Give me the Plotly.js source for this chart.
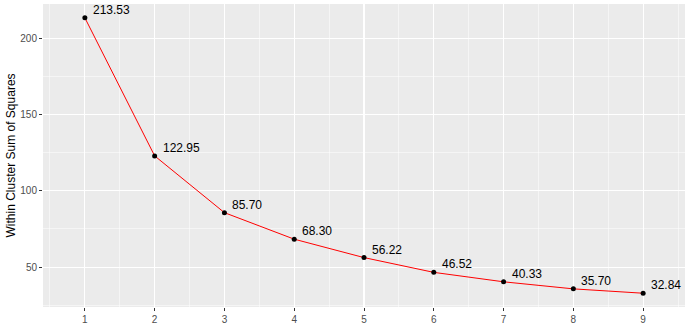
<!DOCTYPE html>
<html><head><meta charset="utf-8">
<script src="https://cdn.plot.ly/plotly-3.0.1.min.js"></script>
<style>html,body{margin:0;padding:0;background:#fff;}#chart{width:690px;height:329px;}</style>
</head><body><div id="chart"></div>
<script>
const clusters = [1,2,3,4,5,6,7,8,9];
const wss = [213.53,122.95,85.70,68.30,56.22,46.52,40.33,35.70,32.84];
const labels = ["213.53","122.95","85.70","68.30","56.22","46.52","40.33","35.70","32.84"];
const yTicks = [50,100,150,200];
const xTitle = 'Number of Clusters';
const yTitle = 'Within Cluster Sum of Squares';

const traces = [
  {x: clusters, y: wss, type:'scatter', mode:'lines', line:{color:'#FF0000', width:1}, hoverinfo:'skip'},
  {x: clusters, y: wss, type:'scatter', mode:'markers', marker:{color:'#000000', size:5}}
];
const fontFam = 'Liberation Sans, Arial, sans-serif';
const annotations = clusters.map((c,i)=>({
  x: c, y: wss[i], text: labels[i], showarrow:false, xanchor:'left', yanchor:'middle',
  xshift: 6, yshift: 8, font:{family:fontFam, size:12, color:'#000'}
}));
annotations.push({xref:'paper', yref:'paper', x:0.5, y:0, xanchor:'center', yanchor:'top',
  yshift:-19, text:xTitle, showarrow:false, font:{family:fontFam, size:12, color:'#000'}});
annotations.push({xref:'paper', yref:'paper', x:0, y:0.5, xanchor:'center', yanchor:'middle',
  xshift:-33, textangle:-90, text:yTitle, showarrow:false, font:{family:fontFam, size:12, color:'#000'}});
const layout = {
  width:690, height:329,
  margin:{l:43, r:5, t:4, b:22},
  paper_bgcolor:'#FFFFFF', plot_bgcolor:'#EBEBEB',
  showlegend:false,
  font:{family:fontFam},
  xaxis:{range:[0.4,9.6], tickvals:clusters, ticktext:clusters.map(String),
    showgrid:true, gridcolor:'#FFFFFF', gridwidth:1.1, zeroline:false,
    minor:{dtick:1, tick0:0.5, showgrid:true, gridcolor:'#FFFFFF', gridwidth:0.5},
    ticks:'outside', ticklen:3, tickcolor:'#333333', tickwidth:1,
    tickfont:{size:10, color:'#4D4D4D'}, showline:false},
  yaxis:{range:[23.8,222.6], tickvals:yTicks, ticktext:yTicks.map(String),
    showgrid:true, gridcolor:'#FFFFFF', gridwidth:1.1, zeroline:false,
    minor:{dtick:50, tick0:25, showgrid:true, gridcolor:'#FFFFFF', gridwidth:0.5},
    ticks:'outside', ticklen:3, tickcolor:'#333333', tickwidth:1,
    tickfont:{size:10, color:'#4D4D4D'}, showline:false},
  annotations: annotations
};
Plotly.newPlot('chart', traces, layout, {staticPlot:true, displayModeBar:false});
</script></body></html>
